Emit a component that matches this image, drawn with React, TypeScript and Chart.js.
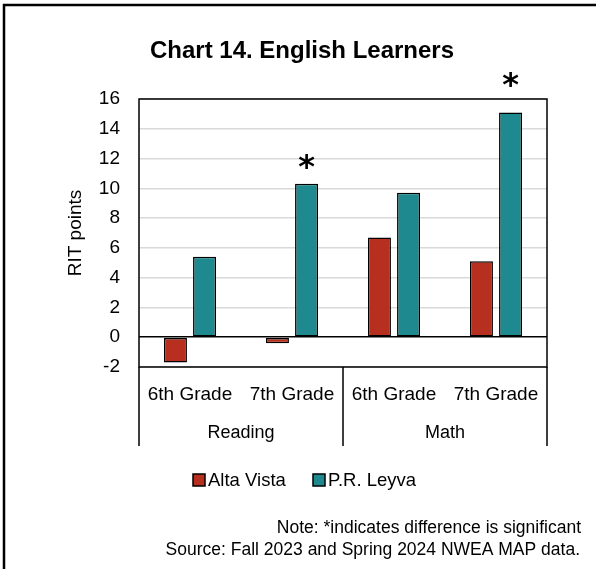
import React, { useEffect, useRef } from "react";
import { Chart, registerables } from "chart.js";

Chart.register(...registerables);

// ---- data ----
const categories = ["6th Grade", "7th Grade", "6th Grade", "7th Grade"];
const subjects = ["Reading", "Math"];
const seriesNames = ["Alta Vista", "P.R. Leyva"];
const altaVista = [-1.7, -0.4, 6.7, 5.1];
const prLeyva = [5.4, 10.3, 9.7, 15.1];
// value at which the significance "*" sits above the P.R. Leyva bar
const significantAt = [null, 11.8, null, 17.3];
const yMin = -2;
const yMax = 16;
const yStep = 2;
const titleText = "Chart 14. English Learners";
const yTitle = "RIT points";
const noteLines = [
  "Note: *indicates difference is significant",
  "Source: Fall 2023 and Spring 2024 NWEA MAP data.",
];

const RED = "#B7301F";
const TEAL = "#1E8A8F";
const FONT = "'Liberation Sans', Arial, sans-serif";

const decorPlugin = {
  id: "decor",
  afterDatasetsDraw(chart: any) {
    const { ctx, chartArea } = chart;
    const xs = chart.scales.x;
    const ys = chart.scales.y;
    ctx.save();

    // outer frame (left + top)
    ctx.strokeStyle = "#000";
    ctx.lineWidth = 2.5;
    ctx.beginPath();
    ctx.moveTo(4, 569);
    ctx.lineTo(4, 5);
    ctx.lineTo(596, 5);
    ctx.stroke();

    // plot border
    ctx.lineWidth = 1.5;
    ctx.strokeRect(chartArea.left, chartArea.top, chartArea.right - chartArea.left, chartArea.bottom - chartArea.top);

    // group separators under the axis
    const mid = (xs.getPixelForValue(1) + xs.getPixelForValue(2)) / 2;
    const sepBottom = chartArea.bottom + 79;
    ctx.beginPath();
    [chartArea.left, mid, chartArea.right].forEach((x) => {
      ctx.moveTo(x, chartArea.bottom);
      ctx.lineTo(x, sepBottom);
    });
    ctx.stroke();

    // group labels
    ctx.fillStyle = "#000";
    ctx.font = `18px ${FONT}`;
    ctx.textAlign = "center";
    ctx.textBaseline = "middle";
    subjects.forEach((s, i) => {
      const cx = (xs.getPixelForValue(i * 2) + xs.getPixelForValue(i * 2 + 1)) / 2;
      ctx.fillText(s, cx, chartArea.bottom + 66);
    });

    // significance asterisks
    const meta = chart.getDatasetMeta(1);
    ctx.font = `bold 32px 'DejaVu Sans', sans-serif`;
    ctx.textBaseline = "alphabetic";
    significantAt.forEach((v, i) => {
      if (v === null) return;
      const bar = meta.data[i];
      const m = ctx.measureText("*");
      const cy = ys.getPixelForValue(v);
      const base = cy + (m.actualBoundingBoxAscent - m.actualBoundingBoxDescent) / 2;
      ctx.fillText("*", bar.x, base);
    });

    // title
    ctx.font = `bold 24px ${FONT}`;
    ctx.textBaseline = "middle";
    ctx.fillText(titleText, 302, 51);

    // legend
    ctx.font = `18.5px ${FONT}`;
    ctx.textAlign = "left";
    const legendItems = [
      { label: seriesNames[0], color: RED, x: 193 },
      { label: seriesNames[1], color: TEAL, x: 313 },
    ];
    legendItems.forEach((it) => {
      ctx.fillStyle = it.color;
      ctx.fillRect(it.x, 474, 12, 12);
      ctx.strokeStyle = "#000";
      ctx.lineWidth = 1.5;
      ctx.strokeRect(it.x, 474, 12, 12);
      ctx.fillStyle = "#000";
      ctx.fillText(it.label, it.x + 15, 481);
    });

    // notes
    ctx.font = `17.5px ${FONT}`;
    ctx.textAlign = "right";
    ctx.fillText(noteLines[0], 581, 528);
    ctx.fillText(noteLines[1], 580, 550);

    ctx.restore();
  },
};

export default function App() {
  const ref = useRef<HTMLCanvasElement | null>(null);
  useEffect(() => {
    if (!ref.current) return;
    const chart = new Chart(ref.current, {
      type: "bar",
      data: {
        labels: categories,
        datasets: [
          {
            label: seriesNames[0],
            data: altaVista,
            backgroundColor: RED,
            borderColor: "#000",
            borderWidth: 1.5,
            borderSkipped: false,
          },
          {
            label: seriesNames[1],
            data: prLeyva,
            backgroundColor: TEAL,
            borderColor: "#000",
            borderWidth: 1.5,
            borderSkipped: false,
          },
        ],
      },
      options: {
        responsive: false,
        animation: false,
        devicePixelRatio: 1,
        categoryPercentage: 0.57,
        barPercentage: 0.79,
        layout: { padding: { left: 60, right: 49, top: 99, bottom: 102 } },
        plugins: {
          legend: { display: false },
          title: { display: false },
          tooltip: { enabled: false },
        },
        scales: {
          x: {
            grid: { display: false },
            border: { display: false },
            ticks: {
              color: "#000",
              font: { family: FONT, size: 19 },
              padding: 8,
              maxRotation: 0,
              autoSkip: false,
            },
            afterFit: (s: any) => {
              s.height = 100;
            },
          },
          y: {
            min: yMin,
            max: yMax,
            grid: {
              drawTicks: false,
              lineWidth: 1.5,
              color: (c: any) => (c.tick && c.tick.value === 0 ? "#000" : "#d9d9d9"),
            },
            border: { display: false },
            ticks: {
              stepSize: yStep,
              color: "#000",
              font: { family: FONT, size: 19 },
              padding: 19,
            },
            title: {
              display: true,
              text: yTitle,
              color: "#000",
              font: { family: FONT, size: 19 },
              padding: { top: 4.6, bottom: 0 },
            },
            afterFit: (s: any) => {
              s.width = 79;
            },
          },
        },
      },
      plugins: [decorPlugin],
    });
    return () => chart.destroy();
  }, []);

  return (
    <div style={{ position: "absolute", left: 0, top: 0, width: 596, height: 569, background: "#fff" }}>
      <canvas ref={ref} width={596} height={569} style={{ display: "block" }} />
    </div>
  );
}
